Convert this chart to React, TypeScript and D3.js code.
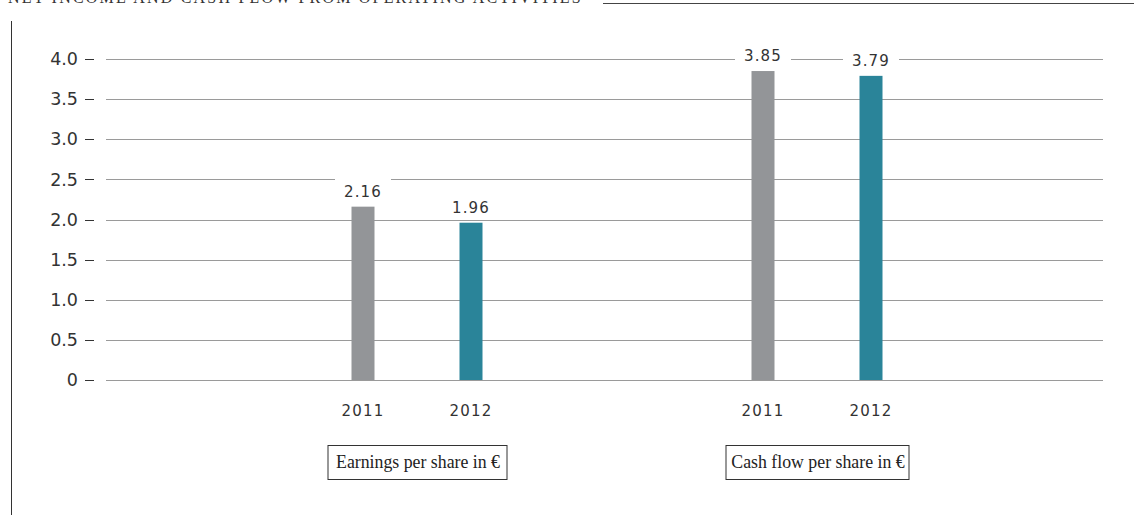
import React from "react";
import * as d3 from "d3";

const groups = ["Earnings per share in €", "Cash flow per share in €"];
const years = ["2011", "2012"];
const epsValues = [2.16, 1.96];
const cashFlowValues = [3.85, 3.79];
const yTicks = [0, 0.5, 1.0, 1.5, 2.0, 2.5, 3.0, 3.5, 4.0];
const title = "NET INCOME AND CASH FLOW FROM OPERATING ACTIVITIES";

const seriesByGroup = [epsValues, cashFlowValues];
const colors = ["#939598", "#2a8499"];

export default function App() {
  const W = 1134, H = 515;
  const y = d3.scaleLinear().domain([0, 4]).range([380, 59]);
  const x0 = d3.scalePoint<string>().domain(groups).range([417, 817]);
  const x1 = d3.scalePoint<string>().domain(years).range([-54, 54]);
  const barW = 23;
  const gridX1 = 106, gridX2 = 1103;

  return (
    <div style={{ position: "absolute", left: 0, top: 0 }}>
      <svg width={W} height={H} style={{ display: "block", background: "#fff" }}>
        <text x={8} y={3} fontFamily="Liberation Serif" fontSize={16} letterSpacing={2.2} fill="#333">{title}</text>
        <line x1={603} x2={W} y1={3.5} y2={3.5} stroke="#444" strokeWidth={1} />
        <line x1={11.5} x2={11.5} y1={21} y2={H} stroke="#333" strokeWidth={1} />
        {yTicks.map((t) => (
          <g key={t}>
            <line x1={gridX1} x2={gridX2} y1={Math.round(y(t)) + 0.5} y2={Math.round(y(t)) + 0.5} stroke="#9a9a9a" strokeWidth={1} />
            <text x={78} y={y(t)} dy="0.35em" textAnchor="end" fontFamily="DejaVu Sans" fontSize={17.5} fill="#333">
              {t === 0 ? "0" : t.toFixed(1)}
            </text>
            <line x1={85} x2={94} y1={Math.round(y(t)) + 0.5} y2={Math.round(y(t)) + 0.5} stroke="#333" strokeWidth={1} />
          </g>
        ))}
        {groups.map((g, gi) => (
          <g key={g}>
            {years.map((yr, i) => {
              const cx = (x0(g) as number) + (x1(yr) as number);
              const v = seriesByGroup[gi][i];
              return (
                <g key={yr}>
                  <rect x={cx - 28} y={y(v) - 28} width={56} height={20} fill="#fff" />
                  <text x={cx} y={y(v) - 10} textAnchor="middle" fontFamily="DejaVu Sans" fontSize={15} letterSpacing={1.2} fill="#333">
                    {v.toFixed(2)}
                  </text>
                  <rect x={cx - barW / 2} y={y(v)} width={barW} height={y(0) - y(v)} fill={colors[i]} />
                  <text x={cx} y={416} textAnchor="middle" fontFamily="DejaVu Sans" fontSize={15} letterSpacing={1.2} fill="#333">
                    {yr}
                  </text>
                </g>
              );
            })}
          </g>
        ))}
        {groups.map((g, gi) => {
          const cx = x0(g) as number;
          const w = gi === 0 ? 179 : 183;
          return (
            <g key={"box" + g}>
              <rect x={cx - w / 2 + 0.5} y={445.5} width={w} height={34} fill="#fff" stroke="#333" strokeWidth={1} />
              <text x={cx + 1} y={468} textAnchor="middle" fontFamily="Liberation Serif" fontSize={17.8} fill="#222">{g}</text>
            </g>
          );
        })}
      </svg>
    </div>
  );
}
